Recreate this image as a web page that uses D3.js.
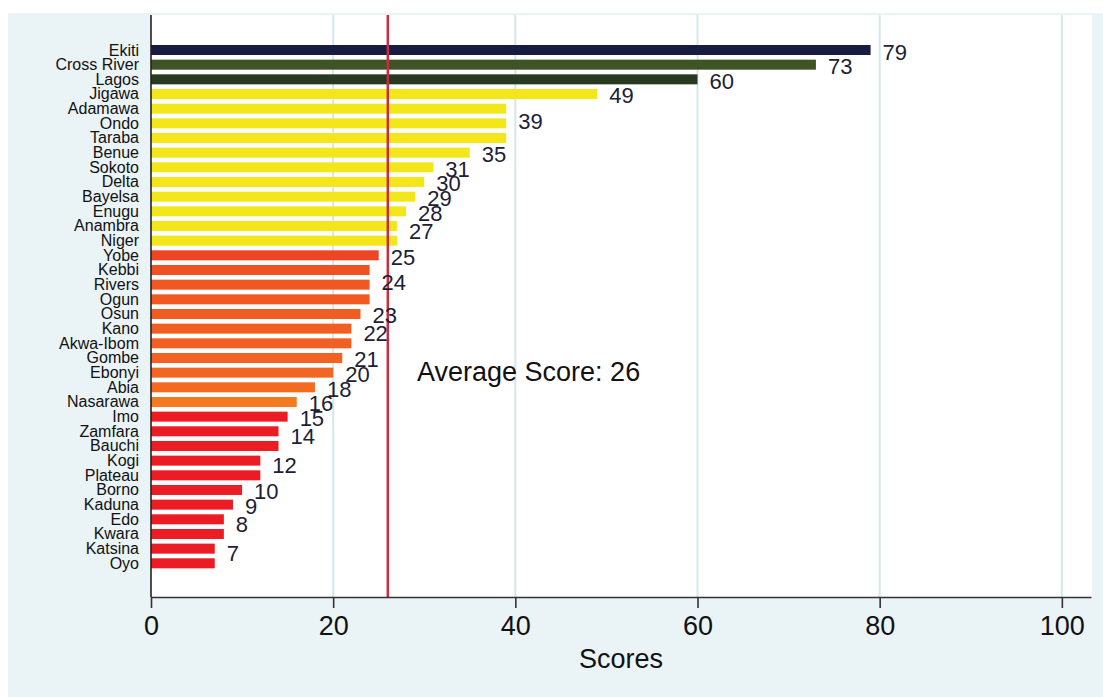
<!DOCTYPE html>
<html>
<head>
<meta charset="utf-8">
<script src="https://cdn.jsdelivr.net/npm/d3@7"></script>
<style>
  html, body { margin: 0; padding: 0; background: #ffffff; }
  svg { display: block; font-family: "Liberation Sans", Arial, Helvetica, sans-serif; }
</style>
</head>
<body>
<svg id="chart" width="1103" height="697"></svg>
<script>
// ---------------- DATA ----------------
const states = ["Ekiti","Cross River","Lagos","Jigawa","Adamawa","Ondo","Taraba","Benue","Sokoto","Delta",
  "Bayelsa","Enugu","Anambra","Niger","Yobe","Kebbi","Rivers","Ogun","Osun","Kano","Akwa-Ibom","Gombe",
  "Ebonyi","Abia","Nasarawa","Imo","Zamfara","Bauchi","Kogi","Plateau","Borno","Kaduna","Edo","Kwara",
  "Katsina","Oyo"];
const scores = [79,73,60,49,39,39,39,35,31,30,29,28,27,27,25,24,24,24,23,22,22,21,20,18,16,15,14,14,12,12,10,9,8,8,7,7];
const xTicks = [0,20,40,60,80,100];
const averageScore = 26;
const averageLabel = "Average Score: 26";
const xTitle = "Scores";

// ---------------- STYLE ----------------
const barColors = ["#161d40","#3e5326","#273a20",
  "#f3e71c","#f3e71c","#f3e71c","#f3e71c","#f3e71c","#f3e71c","#f3e71c","#f3e71c","#f3e71c","#f3e71c","#f3e71c",
  "#ee4623","#ef5123","#f05823","#f05a22","#f15c22","#f15e22","#f16022","#f26222","#f26522","#f36b21","#f47a20",
  "#ec1c24","#ec1c24","#ec1c24","#ec1c24","#ec1c24","#ec1c24","#ec1c24","#ec1c24","#ec1c24","#ec1c24","#ec1c24"];

const svg = d3.select("#chart");
const W = 1103, H = 697;
const plot = {left: 151, right: 1092, top: 15, bottom: 597};

// background panel
svg.append("rect").attr("x", 8).attr("y", 13).attr("width", W - 8).attr("height", H - 13).attr("fill", "#eaf3f6");
svg.append("rect").attr("x", plot.left).attr("y", plot.top)
  .attr("width", plot.right - plot.left).attr("height", plot.bottom - plot.top).attr("fill", "#ffffff");

const x = d3.scaleLinear().domain([0, 103.2]).range([plot.left, 1091]);
const y = d3.scalePoint().domain(states).range([50, 563.3]);
const barH = 10;

// gridlines
svg.append("g").selectAll("line").data(xTicks.filter(d => d > 0)).join("line")
  .attr("x1", d => x(d)).attr("x2", d => x(d))
  .attr("y1", plot.top).attr("y2", plot.bottom)
  .attr("stroke", "#d6e6ec").attr("stroke-width", 2);

// bars
const data = states.map((s, i) => ({state: s, value: scores[i], color: barColors[i]}));
svg.append("g").selectAll("rect").data(data).join("rect")
  .attr("x", x(0)).attr("y", d => y(d.state) - barH / 2)
  .attr("width", d => x(d.value) - x(0)).attr("height", barH)
  .attr("fill", d => d.color);

// average line
svg.append("line")
  .attr("x1", x(averageScore)).attr("x2", x(averageScore))
  .attr("y1", plot.top).attr("y2", plot.bottom)
  .attr("stroke", "#cc2a3e").attr("stroke-width", 2.5);

// value labels: one per distinct value, at the mean position of its group
const groups = d3.groups(data, d => d.value);
svg.append("g").selectAll("text").data(groups).join("text")
  .attr("x", d => x(d[0]) + 12)
  .attr("y", d => d3.mean(d[1], e => y(e.state)) + (d[1].length === 1 ? 2 : -2))
  .attr("dominant-baseline", "central")
  .attr("font-size", 22).attr("fill", "#1d2136")
  .text(d => d[0]);

// state labels
svg.append("g").selectAll("text").data(states).join("text")
  .attr("x", 139).attr("y", d => y(d))
  .attr("text-anchor", "end").attr("dominant-baseline", "central")
  .attr("font-size", 16).attr("fill", "#111").text(d => d);

// axes
const xAxis = d3.axisBottom(x).tickValues(xTicks).tickSize(11).tickSizeOuter(0).tickPadding(8);
const gx = svg.append("g").attr("transform", `translate(0,${plot.bottom})`).call(xAxis);
gx.select(".domain").attr("stroke", "#333").attr("stroke-width", 1.6);
gx.selectAll(".tick line").attr("stroke", "#333").attr("stroke-width", 1.6);
gx.selectAll(".tick text").attr("font-size", 27).attr("fill", "#111")
  .attr("font-family", "'Liberation Sans', Arial, sans-serif");

svg.append("line").attr("x1", plot.left).attr("x2", plot.left)
  .attr("y1", plot.top).attr("y2", plot.bottom)
  .attr("stroke", "#222").attr("stroke-width", 1.6);

svg.append("text").attr("x", (plot.left + 1091) / 2).attr("y", 668)
  .attr("text-anchor", "middle").attr("font-size", 27).attr("fill", "#111").text(xTitle);

svg.append("text").attr("x", 417).attr("y", 372)
  .attr("dominant-baseline", "central")
  .attr("font-size", 27).attr("fill", "#111").text(averageLabel);
</script>
</body>
</html>
